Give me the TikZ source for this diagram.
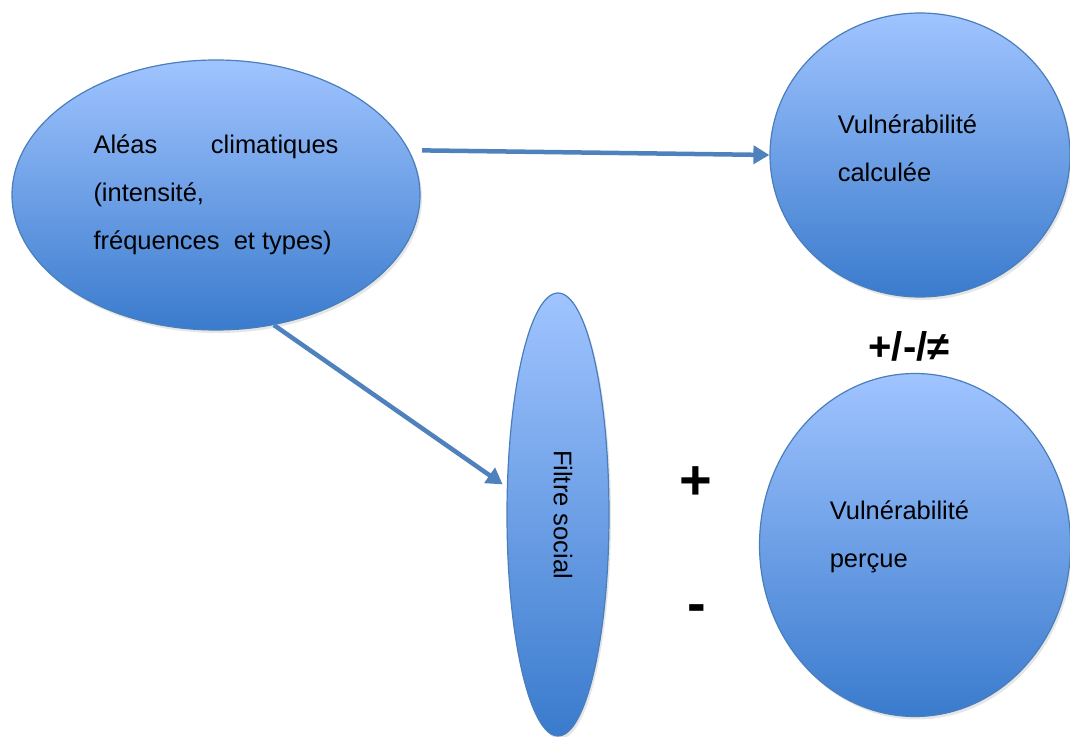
\documentclass[tikz,border=0pt]{standalone}
\usepackage{fontspec}
\setmainfont{Liberation Sans}
\usetikzlibrary{shapes.geometric, arrows.meta, shadows}
\definecolor{bluetop}{RGB}{160,196,255}
\definecolor{bluebot}{RGB}{58,123,205}
\definecolor{blueline}{RGB}{74,126,187}
\definecolor{arrowblue}{RGB}{79,129,189}
\tikzstyle{bubble} = [ellipse, draw=blueline, line width=1.2pt, top color=bluetop, bottom color=bluebot, drop shadow={opacity=0.2, shadow xshift=2pt, shadow yshift=-3pt}, inner sep=0pt]
\tikzstyle{body} = [align=left, inner sep=0pt, font=\fontsize{25.5}{48}\selectfont]
\tikzstyle{sign} = [inner sep=0pt, text=black]
\tikzstyle{arrow} = [draw=arrowblue, line width=4.5pt, -{Triangle[length=16pt,width=18pt]}]

\begin{document}
\begin{tikzpicture}[x=1pt, y=1pt]
\useasboundingbox (0,0) rectangle (1070,736);

\node (aleas) [bubble, body, minimum width=408pt, minimum height=270pt] at (216,541) {\makebox[245pt][l]{Aléas\hfill climatiques}\\(intensité,\\fréquences\ \ et types)};

\node (calc) [bubble, minimum width=300pt, minimum height=284pt] at (920,581) {};
\node (calctxt) [body] at ([shift={(-12.5,7)}]calc.center) {Vulnérabilité\\calculée};

\node (percue) [bubble, minimum width=311pt, minimum height=343pt] at (915,191) {};
\node (percuetxt) [body] at ([shift={(-15.5,8)}]percue.center) {Vulnérabilité\\perçue};

\node (filtre) [bubble, minimum width=102pt, minimum height=443pt] at (558,221.5) {\hspace{10pt}\rotatebox{-90}{\fontsize{25.5}{30}\selectfont Filtre social}};

\node (ecart) [sign, font=\fontsize{40}{48}\selectfont\bfseries] at (909,390) {+/-/≠};
\node (plus) [sign, font=\fontsize{56}{60}\selectfont\bfseries] at (696,253) {+};
\node (moins) [sign, font=\fontsize{56}{60}\selectfont\bfseries] at (697,122) {-};

\draw [arrow] ([xshift=13pt]aleas.13) -- (calc.west);
\draw [arrow, shorten >=5pt] (aleas.-66) -- (filtre.152);
\end{tikzpicture}
\end{document}
